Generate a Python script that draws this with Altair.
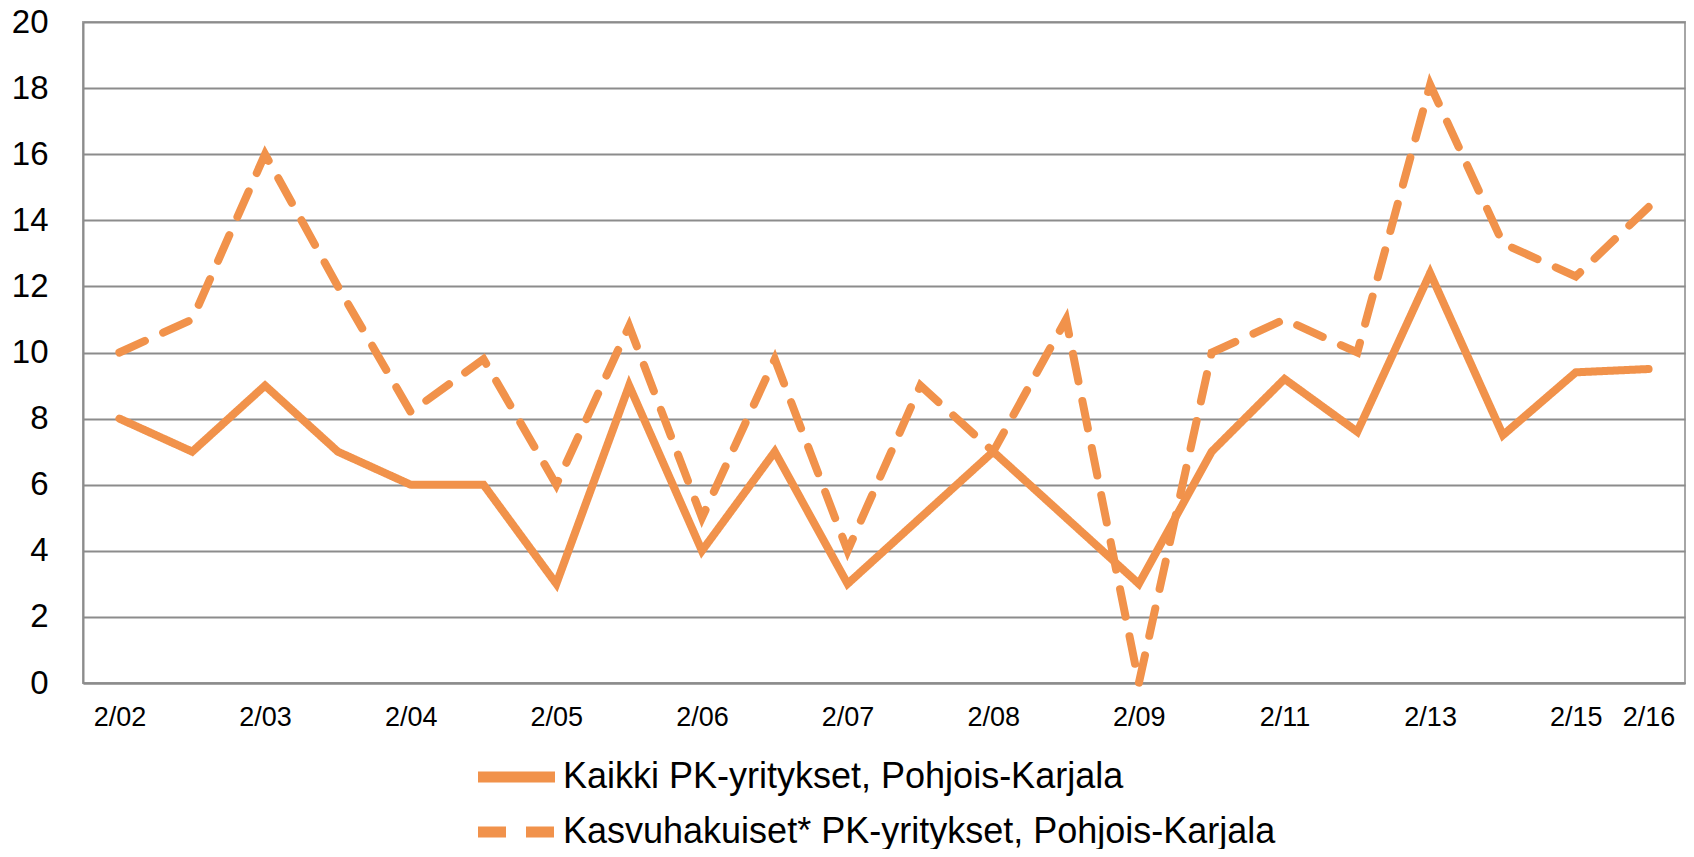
import altair as alt
import pandas as pd

categories = ["2/02", "8/02", "2/03", "8/03", "2/04", "8/04", "2/05", "8/05",
              "2/06", "8/06", "2/07", "8/07", "2/08", "8/08", "2/09", "2/10",
              "2/11", "2/12", "2/13", "2/14", "2/15", "2/16"]
shown_labels = ["2/02", "2/03", "2/04", "2/05", "2/06", "2/07", "2/08", "2/09",
                "2/11", "2/13", "2/15", "2/16"]
series_names = ["Kaikki PK-yritykset, Pohjois-Karjala",
                "Kasvuhakuiset* PK-yritykset, Pohjois-Karjala"]
kaikki = [8, 7, 9, 7, 6, 6, 3, 9, 4, 7, 3, 5, 7, 5, 3, 7, 9.2, 7.6, 12.4, 7.5, 9.4, 9.5]
kasvu = [10, 11, 16, 12, 8.2, 9.8, 6, 10.8, 5, 9.8, 4, 9, 7, 11, 0, 10, 11, 10, 18.1, 13.3, 12.3, 14.4]
y_ticks = [0, 2, 4, 6, 8, 10, 12, 14, 16, 18, 20]

ORANGE = "#F1924B"
FONT = "Liberation Sans"

rows = []
for i, c in enumerate(categories):
    rows.append({"kausi": c, "arvo": kaikki[i], "sarja": series_names[0], "ord": i})
    rows.append({"kausi": c, "arvo": kasvu[i], "sarja": series_names[1], "ord": i})
df = pd.DataFrame(rows)

label_list = "[" + ",".join("'" + s + "'" for s in shown_labels) + "]"

chart = alt.Chart(df).mark_line(
    color=ORANGE, strokeWidth=8, strokeCap="round", strokeJoin="miter"
).encode(
    x=alt.X("kausi:O", sort=categories, title=None,
            scale=alt.Scale(padding=0.5),
            axis=alt.Axis(labelExpr="indexof(" + label_list + ", datum.label) >= 0 ? datum.label : ''",
                          labelAngle=0, labelOverlap=False, ticks=False,
                          labelFontSize=27, labelFont=FONT, labelColor="black",
                          labelPadding=21, domainColor="#8C8C8C", domainWidth=2,
                          grid=False)),
    y=alt.Y("arvo:Q", title=None,
            scale=alt.Scale(domain=[0, 20], nice=False),
            axis=alt.Axis(values=y_ticks, ticks=False, labelFontSize=33, labelFont=FONT,
                          labelColor="black", labelPadding=35, domainColor="#8C8C8C",
                          domainWidth=2, gridColor="#8C8C8C", gridWidth=2)),
    strokeDash=alt.StrokeDash("sarja:N",
                              scale=alt.Scale(domain=series_names, range=[[1, 0], [28, 20]]),
                              legend=alt.Legend(title=None, orient="none", legendX=387, legendY=737,
                                                direction="vertical", symbolType="M-1,0H6.7",
                                                symbolSize=400, symbolStrokeWidth=11,
                                                symbolStrokeColor=ORANGE, labelFontSize=36,
                                                labelFont=FONT, labelColor="black",
                                                rowPadding=11, labelOffset=57, labelLimit=0,
                                                padding=0)),
    order="ord:Q",
    detail="sarja:N",
).properties(
    width=1602, height=661,
    autosize=alt.AutoSizeParams(type="none"),
    padding={"left": 75, "top": 14, "right": 1, "bottom": 166},
).configure_view(
    stroke="#A6A6A6", strokeWidth=2
)

chart.save("out.html", embed_options={"renderer": "svg", "actions": False})
